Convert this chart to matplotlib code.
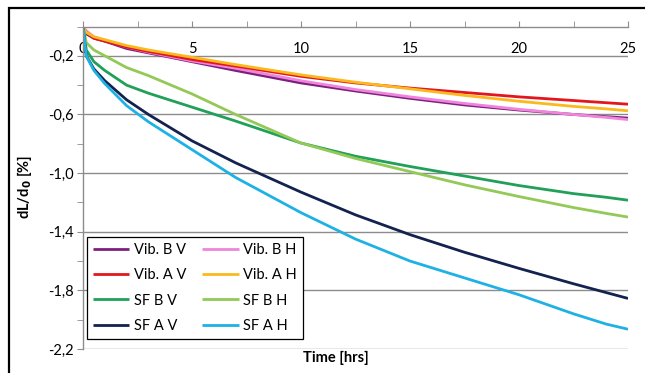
import numpy as np
import matplotlib.pyplot as plt
from matplotlib.patches import Rectangle
from matplotlib.ticker import MultipleLocator, FuncFormatter

# time points [hrs]
t = [0, 0.15, 0.5, 1, 2, 3, 5, 7, 10, 12.5, 15, 17.5, 20, 22.5, 24, 25]

# dL/d0 [%] per test
vib_b_v = [0, -0.05, -0.08, -0.10, -0.15, -0.18, -0.24, -0.30, -0.385, -0.44, -0.49, -0.535, -0.57, -0.60, -0.615, -0.625]
vib_b_h = [0, -0.03, -0.07, -0.095, -0.14, -0.175, -0.235, -0.285, -0.37, -0.43, -0.48, -0.525, -0.565, -0.60, -0.62, -0.635]
vib_a_v = [0, -0.04, -0.08, -0.10, -0.14, -0.17, -0.225, -0.27, -0.34, -0.385, -0.42, -0.45, -0.48, -0.505, -0.52, -0.53]
vib_a_h = [0, -0.04, -0.07, -0.09, -0.13, -0.16, -0.21, -0.26, -0.33, -0.38, -0.425, -0.47, -0.51, -0.545, -0.562, -0.575]
sf_b_v = [0, -0.16, -0.24, -0.30, -0.40, -0.455, -0.55, -0.645, -0.795, -0.885, -0.955, -1.02, -1.085, -1.14, -1.165, -1.185]
sf_b_h = [0, -0.11, -0.16, -0.20, -0.28, -0.335, -0.46, -0.60, -0.795, -0.90, -0.99, -1.08, -1.16, -1.235, -1.275, -1.30]
sf_a_v = [0, -0.2, -0.29, -0.37, -0.50, -0.60, -0.78, -0.93, -1.13, -1.285, -1.42, -1.54, -1.65, -1.755, -1.815, -1.855]
sf_a_h = [0, -0.2, -0.30, -0.39, -0.54, -0.65, -0.84, -1.03, -1.27, -1.45, -1.60, -1.715, -1.83, -1.96, -2.03, -2.065]

labels = ['Vib. B V', 'Vib. B H', 'Vib. A V', 'Vib. A H', 'SF B V', 'SF B H', 'SF A V', 'SF A H']
colors = ['#7d1f7c', '#ef85dc', '#e3161e', '#fbb91e', '#20a058', '#93c956', '#13224f', '#1eb1e4']
series = [vib_b_v, vib_b_h, vib_a_v, vib_a_h, sf_b_v, sf_b_h, sf_a_v, sf_a_h]

plt.rcParams['font.family'] = ['Lato', 'DejaVu Sans']

W, H = 645, 373
fig = plt.figure(figsize=(W / 100, H / 100), dpi=100)
ax = fig.add_axes([83 / W, 1 - 349 / H, (628 - 83) / W, (349 - 26.5) / H])

lines = []
for y, lab, c in zip(series, labels, colors):
    ln, = ax.plot(t, y, color=c, lw=2.0, label=lab, solid_capstyle='butt')
    lines.append(ln)

ax.set_xlim(0, 25)
ax.set_ylim(-2.2, 0)

grey = '#8c8c8c'
ax.xaxis.tick_top()
ax.xaxis.set_major_locator(MultipleLocator(5))
ax.xaxis.set_minor_locator(MultipleLocator(2.5))
ax.yaxis.set_major_locator(MultipleLocator(0.4, offset=0.2))
ax.yaxis.set_minor_locator(MultipleLocator(0.2))
ax.yaxis.set_major_formatter(FuncFormatter(lambda v, p: ('%.1f' % v).replace('.', ',')))

ax.tick_params(axis='x', which='both', direction='out', length=4, color=grey,
               labelsize=10.5, pad=-25)
ax.tick_params(axis='y', which='both', direction='out', length=4, color=grey,
               labelsize=10.5, pad=3)
ax.grid(axis='y', which='major', color=grey, lw=1)

for s in ['right', 'bottom']:
    ax.spines[s].set_visible(False)
for s in ['left', 'top']:
    ax.spines[s].set_color(grey)
    ax.spines[s].set_linewidth(1)

fig.text(25 / W, 1 - 187 / H, 'dL/d$_\\mathbf{0}$ [%]', rotation=90, ha='center', va='center',
         fontsize=10.5, fontweight='bold')
fig.text(336 / W, 1 - 358 / H, 'Time [hrs]', ha='center', va='center',
         fontsize=10.5, fontweight='bold')

order = [0, 2, 4, 6, 1, 3, 5, 7]
leg = fig.legend([lines[i] for i in order], [labels[i] for i in order], ncol=2,
                 loc='upper left', bbox_to_anchor=(87 / W, 1 - 237 / H),
                 borderaxespad=0, fontsize=10.5, handlelength=2.5, handletextpad=0.3,
                 columnspacing=1.1, labelspacing=0.78, borderpad=0.4,
                 fancybox=False, framealpha=1, edgecolor='black')
leg.get_frame().set_linewidth(0.9)

# outer frame of the embedded chart
fig.patches.append(Rectangle((8.5 / W, -0.1), 1.2, (1 - 7.5 / H) + 0.1, transform=fig.transFigure,
                             fill=False, edgecolor='black', lw=1.6))

fig.savefig('out.png', dpi=100)
